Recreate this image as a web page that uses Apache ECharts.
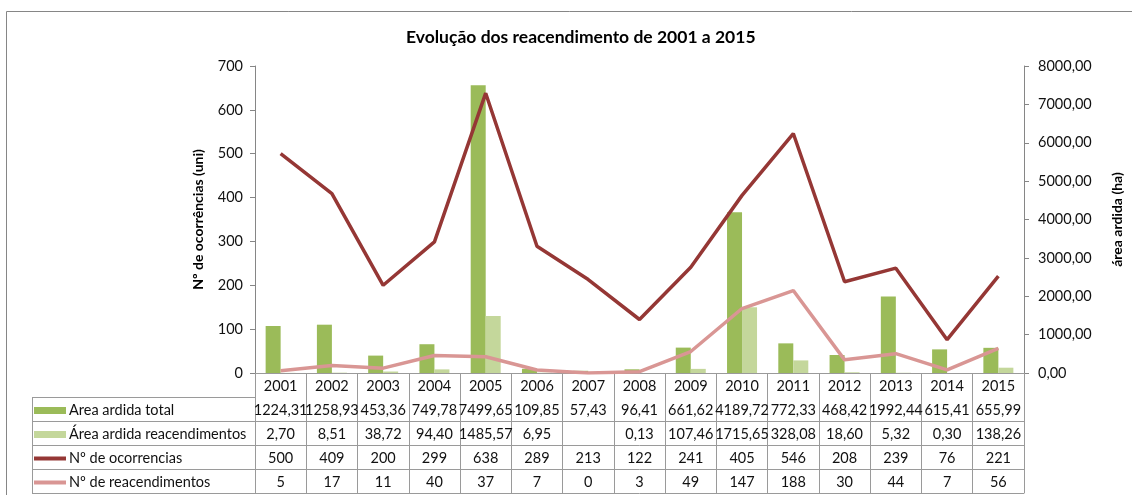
<!DOCTYPE html>
<html>
<head>
<meta charset="utf-8">
<title>Evolução dos reacendimento de 2001 a 2015</title>
<script src="https://cdn.jsdelivr.net/npm/echarts@6/dist/echarts.min.js"></script>
<style>
  html, body { margin: 0; padding: 0; background: #fff; }
  #chart { width: 1132px; height: 495px; }
</style>
</head>
<body>
<div id="chart"></div>
<script>
const years = ['2001', '2002', '2003', '2004', '2005', '2006', '2007', '2008', '2009', '2010', '2011', '2012', '2013', '2014', '2015']
const areaTotal = [1224.31, 1258.93, 453.36, 749.78, 7499.65, 109.85, 57.43, 96.41, 661.62, 4189.72, 772.33, 468.42, 1992.44, 615.41, 655.99]
const areaReac = [2.70, 8.51, 38.72, 94.40, 1485.57, 6.95, null, 0.13, 107.46, 1715.65, 328.08, 18.60, 5.32, 0.30, 138.26]
const ocorrencias = [500, 409, 200, 299, 638, 289, 213, 122, 241, 405, 546, 208, 239, 76, 221]
const reacendimentos = [5, 17, 11, 40, 37, 7, 0, 3, 49, 147, 188, 30, 44, 7, 56]
const leftTicks = { min: 0, max: 700, interval: 100 }
const rightTicks = { min: 0, max: 8000, interval: 1000 }

const names = ['Area ardida total', 'Área ardida reacendimentos', 'Nº de ocorrencias', 'Nº de reacendimentos']
const colors = ['#9bbb59', '#c4d79b', '#953735', '#d99694']

const font = 'Lato'
const textColor = '#111'
const axisGray = '#868686'
const tableGray = '#9a9a9a'
const rowH = 24
const gridBottomY = 373

function fmt2(v) {
  return v == null ? '' : v.toFixed(2).replace('.', ',')
}

const rows = [
  areaTotal.map(fmt2),
  areaReac.map(fmt2),
  ocorrencias.map(String),
  reacendimentos.map(String)
]

const chart = echarts.init(document.getElementById('chart'))

// extra x axes draw the data table rows under the plot
const tableAxes = rows.map((row, i) => ({
  type: 'category',
  data: years,
  position: 'bottom',
  offset: rowH * (i + 1),
  axisLine: { show: true, lineStyle: { color: tableGray, width: 1 } },
  axisTick: { show: false },
  axisLabel: {
    interval: 0,
    margin: 6,
    fontFamily: font,
    fontSize: 14.5,
    color: textColor,
    formatter: (val, idx) => row[idx]
  }
}))
tableAxes.push({
  type: 'category',
  data: years,
  position: 'bottom',
  offset: rowH * 5,
  axisLine: { show: true, lineStyle: { color: tableGray, width: 1 } },
  axisTick: { show: false },
  axisLabel: { show: false }
})

const legends = names.map((n, i) => ({
  data: [n],
  left: 34,
  top: gridBottomY + rowH * (i + 1) + rowH / 2 - 6,
  padding: 0,
  selectedMode: false,
  icon: 'rect',
  itemWidth: 32,
  itemHeight: i < 2 ? 7 : 4,
  itemGap: 0,
  textStyle: { fontFamily: font, fontSize: 14.5, color: textColor, padding: [0, 0, 0, -2] }
}))

const tableLines = [0, 1, 2, 3, 4].map(i => ({
  type: 'line',
  shape: { x1: 32, y1: gridBottomY + rowH * (i + 1) + 0.5, x2: 255, y2: gridBottomY + rowH * (i + 1) + 0.5 },
  style: { stroke: tableGray, lineWidth: 1 },
  silent: true
}))
tableLines.push({
  type: 'line',
  shape: { x1: 32.5, y1: gridBottomY + rowH, x2: 32.5, y2: gridBottomY + rowH * 5 },
  style: { stroke: tableGray, lineWidth: 1 },
  silent: true
})

chart.setOption({
  animation: false,
  backgroundColor: '#fff',
  title: {
    text: 'Evolução dos reacendimento de 2001 a 2015',
    left: 406,
    top: 28,
    padding: 0,
    textStyle: { fontFamily: font, fontSize: 17.5, fontWeight: 'bold', color: '#000' }
  },
  legend: legends,
  graphic: [
    {
      type: 'rect',
      shape: { x: 6.5, y: 11.5, width: 1200, height: 600 },
      style: { fill: 'none', stroke: axisGray, lineWidth: 1 },
      silent: true
    }
  ].concat(tableLines),
  grid: {
    left: 255,
    right: 97,
    top: 66,
    bottom: 495 - gridBottomY
  },
  xAxis: [
    {
      type: 'category',
      data: years,
      axisLine: { lineStyle: { color: axisGray, width: 1 } },
      axisTick: { show: true, length: rowH * 5, interval: 0, lineStyle: { color: tableGray } },
      axisLabel: { interval: 0, margin: 6, fontFamily: font, fontSize: 14.5, color: textColor }
    }
  ].concat(tableAxes),
  yAxis: [
    {
      type: 'value',
      min: leftTicks.min,
      max: leftTicks.max,
      interval: leftTicks.interval,
      name: 'Nº de ocorrências (uni)',
      nameLocation: 'middle',
      nameRotate: 90,
      nameGap: 50,
      nameTextStyle: { fontFamily: font, fontSize: 14, fontWeight: 'bold', color: '#000' },
      splitLine: { show: false },
      axisLine: { show: true, lineStyle: { color: axisGray } },
      axisTick: { show: true, length: 5, lineStyle: { color: axisGray } },
      axisLabel: { margin: 12, fontFamily: font, fontSize: 14.5, color: textColor }
    },
    {
      type: 'value',
      position: 'right',
      min: rightTicks.min,
      max: rightTicks.max,
      interval: rightTicks.interval,
      name: 'área ardida (ha)',
      nameLocation: 'middle',
      nameRotate: 90,
      nameGap: 86,
      nameTextStyle: { fontFamily: font, fontSize: 14, fontWeight: 'bold', color: '#000' },
      splitLine: { show: false },
      axisLine: { show: true, lineStyle: { color: axisGray } },
      axisTick: { show: true, length: 5, lineStyle: { color: axisGray } },
      axisLabel: { margin: 14, fontFamily: font, fontSize: 14.5, color: textColor, formatter: v => fmt2(v) }
    }
  ],
  series: [
    {
      name: names[0],
      type: 'bar',
      yAxisIndex: 1,
      data: areaTotal,
      barWidth: 15,
      barGap: '0%',
      itemStyle: { color: colors[0] }
    },
    {
      name: names[1],
      type: 'bar',
      yAxisIndex: 1,
      data: areaReac,
      barWidth: 15,
      barGap: '0%',
      itemStyle: { color: colors[1] }
    },
    {
      name: names[2],
      type: 'line',
      yAxisIndex: 0,
      data: ocorrencias,
      symbol: 'none',
      itemStyle: { color: colors[2] },
      lineStyle: { color: colors[2], width: 3.5 }
    },
    {
      name: names[3],
      type: 'line',
      yAxisIndex: 0,
      data: reacendimentos,
      symbol: 'none',
      itemStyle: { color: colors[3] },
      lineStyle: { color: colors[3], width: 3.5 }
    }
  ]
})
</script>
</body>
</html>
